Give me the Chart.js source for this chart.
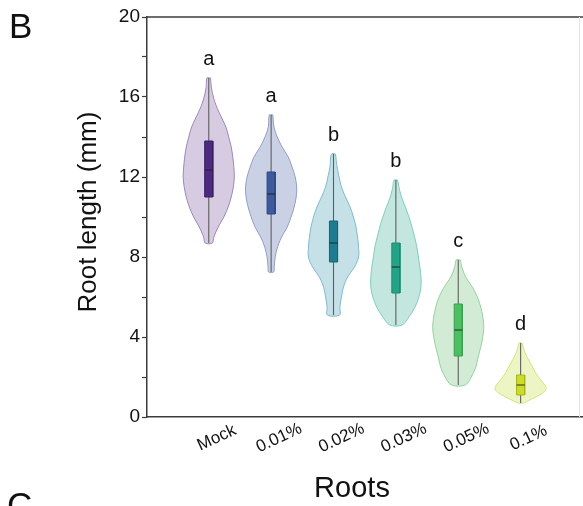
<!DOCTYPE html>
<html>
<head>
<meta charset="utf-8">
<title>Root length violin plot</title>
<script src="https://cdn.jsdelivr.net/npm/chart.js@4.4.1/dist/chart.umd.min.js"></script>
<style>
  html, body { margin: 0; padding: 0; background: #fff; }
  #wrap { width: 583px; height: 506px; position: relative; }
</style>
</head>
<body>
<div id="wrap"><canvas id="violin" width="583" height="506"></canvas></div>
<script>
"use strict";

/* ------------------------------------------------------------------
 * Data
 * ------------------------------------------------------------------ */
const categories = ["Mock", "0.01%", "0.02%", "0.03%", "0.05%", "0.1%"];
const letters    = ["a", "a", "b", "b", "c", "d"];
const yTicks     = [0, 4, 8, 12, 16, 20];

// box plot summary per group, mm
const mins    = [8.7,   7.25,  5.1,   4.6,   1.6,  0.7];
const q1s     = [11.0,  10.15, 7.75,  6.2,   3.05, 1.1];
const medians = [12.35, 11.15, 8.7,   7.5,   4.35, 1.6];
const q3s     = [13.8,  12.25, 9.8,   8.7,   5.65, 2.1];
const maxs    = [16.95, 15.1,  13.15, 11.85, 7.85, 3.7];

// violin outline: root length levels (top -> bottom) and relative density there
const densityLevels = [
  [16.95, 16.5, 16, 15.5, 15, 14.5, 14, 13.5, 13, 12.5, 12, 11.5, 11, 10.5, 10, 9.5, 9, 8.7],
  [15.1, 14.5, 14, 13.5, 13, 12.5, 12, 11.5, 11, 10.5, 10, 9.5, 9, 8.5, 8, 7.5, 7.25],
  [13.15, 12.5, 12, 11.5, 11, 10.5, 10, 9.5, 9, 8.5, 8, 7.5, 7, 6.5, 6, 5.5, 5.1],
  [11.85, 11.5, 11, 10.5, 10, 9.5, 9, 8.5, 8, 7.5, 7, 6.5, 6, 5.5, 5, 4.6],
  [7.85, 7.5, 7, 6.5, 6, 5.5, 5, 4.5, 4, 3.5, 3, 2.5, 2, 1.6],
  [3.7, 3.4, 3.0, 2.6, 2.2, 1.9, 1.6, 1.4, 1.2, 1.0, 0.8, 0.7]
];
const densityValues = [
  [0.07, 0.1, 0.18, 0.31, 0.49, 0.67, 0.78, 0.88, 0.94, 0.98, 1, 0.96, 0.88, 0.76, 0.59, 0.37, 0.2, 0.14],
  [0.07, 0.11, 0.24, 0.43, 0.67, 0.82, 0.94, 1, 0.98, 0.9, 0.78, 0.63, 0.41, 0.25, 0.16, 0.12, 0.1],
  [0.08, 0.14, 0.22, 0.31, 0.47, 0.65, 0.78, 0.88, 0.94, 0.98, 0.98, 0.82, 0.55, 0.39, 0.31, 0.25, 0.24],
  [0.07, 0.12, 0.22, 0.37, 0.51, 0.63, 0.73, 0.82, 0.88, 0.94, 0.98, 0.98, 0.9, 0.75, 0.51, 0.24],
  [0.08, 0.14, 0.29, 0.55, 0.75, 0.88, 0.96, 1, 0.96, 0.88, 0.78, 0.69, 0.51, 0.27],
  [0.06, 0.12, 0.25, 0.43, 0.59, 0.76, 0.94, 1, 0.86, 0.59, 0.27, 0.12]
];

/* ------------------------------------------------------------------
 * Styles
 * ------------------------------------------------------------------ */
const FONT        = "'Liberation Sans', Arial, Helvetica, sans-serif";
const AXIS_COLOR  = "#3c3c3c";
const VIOLIN_HALF = 0.41;   // max half width, category units
const BOX_HALF    = 0.065;

const violinFill = ["#d6cbe0", "#cbd1e5", "#c5e0e7", "#c3e7df", "#d1ebd4", "#eef5c4"];
const violinEdge = ["#9d89b9", "#919ec5", "#83bacb", "#82cdb9", "#97d2a2", "#d3e281"];
const boxFill    = ["#4b2a80", "#3d5a9c", "#1f7b8f", "#25a386", "#4dbf62", "#cbdc2c"];
const boxEdge    = ["#3a1f66", "#2f4880", "#176473", "#1c8a70", "#3aa04f", "#a6b41c"];

Chart.defaults.font.family = FONT;

/* ------------------------------------------------------------------
 * Dataset builders
 * ------------------------------------------------------------------ */
function violinPoints(g) {
  const lv = densityLevels[g];
  const dv = densityValues[g];
  const right = lv.map(function (y, k) { return { x: g + dv[k] * VIOLIN_HALF, y: y }; });
  const left  = lv.map(function (y, k) { return { x: g - dv[k] * VIOLIN_HALF, y: y }; }).reverse();
  const pts = right.concat(left);
  pts.push(pts[0]);
  return pts;
}

function boxPoints(g) {
  return [
    { x: g - BOX_HALF, y: q3s[g] },
    { x: g + BOX_HALF, y: q3s[g] },
    { x: g + BOX_HALF, y: q1s[g] },
    { x: g - BOX_HALF, y: q1s[g] },
    { x: g - BOX_HALF, y: q3s[g] }
  ];
}

const datasets = [];
categories.forEach(function (name, g) {
  const base = { showLine: true, pointRadius: 0, pointHoverRadius: 0 };

  datasets.push(Object.assign({}, base, {
    label: name + " violin",
    data: violinPoints(g),
    fill: "shape",
    backgroundColor: violinFill[g],
    borderColor: violinEdge[g],
    borderWidth: 1,
    tension: 0.35,
    order: 3
  }));
  datasets.push(Object.assign({}, base, {
    label: name + " whisker",
    data: [{ x: g, y: mins[g] }, { x: g, y: maxs[g] }],
    borderColor: "#5e5e5e",
    borderWidth: 1.1,
    order: 2
  }));
  datasets.push(Object.assign({}, base, {
    label: name + " box",
    data: boxPoints(g),
    fill: "shape",
    backgroundColor: boxFill[g],
    borderColor: boxEdge[g],
    borderWidth: 1,
    tension: 0,
    order: 1
  }));
  datasets.push(Object.assign({}, base, {
    label: name + " median",
    data: [{ x: g - BOX_HALF, y: medians[g] }, { x: g + BOX_HALF, y: medians[g] }],
    borderColor: "rgba(30,30,30,0.75)",
    borderWidth: 1.2,
    order: 0
  }));
});

/* ------------------------------------------------------------------
 * Text + frame plugin
 * ------------------------------------------------------------------ */
const annotate = {
  id: "annotate",
  afterDraw: function (chart) {
    const ctx = chart.ctx;
    const xs  = chart.scales.x;
    const ys  = chart.scales.y;
    const a   = chart.chartArea;

    ctx.save();

    // frame: top line, faint right line
    ctx.strokeStyle = AXIS_COLOR;
    ctx.lineWidth = 1.5;
    ctx.beginPath();
    ctx.moveTo(a.left, a.top);
    ctx.lineTo(a.right, a.top);
    ctx.stroke();
    ctx.strokeStyle = "#e4e4e4";
    ctx.lineWidth = 1;
    ctx.beginPath();
    ctx.moveTo(a.right - 3.5, a.top);
    ctx.lineTo(a.right - 3.5, a.bottom);
    ctx.stroke();

    ctx.fillStyle = "#111";

    // significance letters
    ctx.font = "20px " + FONT;
    ctx.textAlign = "center";
    ctx.textBaseline = "middle";
    letters.forEach(function (t, g) {
      ctx.fillText(t, xs.getPixelForValue(g), ys.getPixelForValue(maxs[g]) - 19);
    });

    // rotated category labels
    ctx.font = "17px " + FONT;
    categories.forEach(function (name, g) {
      ctx.save();
      ctx.translate(xs.getPixelForValue(g) + 8, a.bottom + 21);
      ctx.rotate(-25 * Math.PI / 180);
      ctx.fillText(name, 0, 0);
      ctx.restore();
    });

    // axis titles
    ctx.textBaseline = "alphabetic";
    ctx.font = "26px " + FONT;
    ctx.save();
    ctx.translate(96, 212);
    ctx.rotate(-Math.PI / 2);
    ctx.fillText("Root length (mm)", 0, 0);
    ctx.restore();

    ctx.font = "29px " + FONT;
    ctx.fillText("Roots", 352, 497);

    // panel letters
    ctx.textAlign = "left";
    ctx.font = "35px " + FONT;
    ctx.fillText("B", 9, 38);
    ctx.fillText("C", 7, 517);

    ctx.restore();
  }
};

/* ------------------------------------------------------------------
 * Chart
 * ------------------------------------------------------------------ */
new Chart(document.getElementById("violin").getContext("2d"), {
  type: "scatter",
  data: { datasets: datasets },
  options: {
    responsive: false,
    animation: false,
    events: [],
    layout: { padding: { left: 0, right: 0, top: 17, bottom: 0 } },
    plugins: {
      legend: { display: false },
      tooltip: { enabled: false }
    },
    scales: {
      x: {
        type: "linear",
        min: -0.99,
        max: 6,
        grid: { display: false },
        ticks: { display: false },
        border: { display: true, color: AXIS_COLOR, width: 1.5 },
        afterFit: function (scale) { scale.height = 89; }
      },
      y: {
        type: "linear",
        min: 0,
        max: 20,
        ticks: {
          stepSize: 2,
          padding: 2,
          color: "#111",
          font: { size: 19 },
          callback: function (v) { return yTicks.indexOf(v) >= 0 ? String(v) : ""; }
        },
        grid: {
          drawOnChartArea: false,
          drawTicks: true,
          tickLength: 5,
          tickColor: AXIS_COLOR,
          tickWidth: 1.2
        },
        border: { display: true, color: AXIS_COLOR, width: 1.5 },
        afterFit: function (scale) { scale.width = 147; }
      }
    }
  },
  plugins: [annotate]
});
</script>
</body>
</html>
